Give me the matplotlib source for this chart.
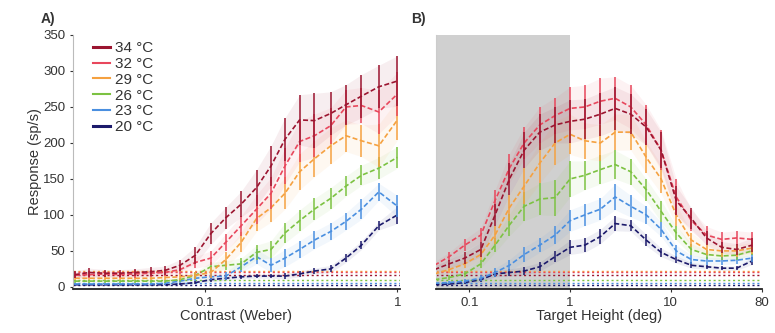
import numpy as np
import matplotlib.pyplot as plt
from matplotlib.lines import Line2D

plt.rcParams['font.family'] = ['Liberation Sans', 'DejaVu Sans']

temps = ['34 °C', '32 °C', '29 °C', '26 °C', '23 °C', '20 °C']
colors = ['#9b1530', '#e8475c', '#f5a140', '#7cc242', '#4a8fe0', '#1c1a6b']
spont = [16, 20, 22, 10, 6, 3]

# panel A: contrast response
contrast = [0.021, 0.025, 0.030, 0.036, 0.043, 0.052, 0.062, 0.074, 0.089, 0.107, 0.128,
            0.154, 0.185, 0.22, 0.26, 0.31, 0.37, 0.45, 0.54, 0.65, 0.80, 1.0]
resp_a = [
    [17, 20, 19, 19, 20, 21, 23, 30, 44, 74, 96, 115, 138, 168, 205, 232, 231, 241, 253, 265, 278, 286],
    [16, 17, 18, 17, 18, 19, 20, 24, 34, 40, 62, 85, 108, 130, 168, 202, 210, 224, 250, 252, 243, 268],
    [12, 12, 12, 12, 12, 12, 13, 14, 16, 20, 38, 62, 95, 110, 130, 160, 178, 196, 210, 203, 196, 232],
    [8, 8, 8, 8, 8, 8, 8, 10, 16, 28, 30, 32, 48, 52, 75, 92, 108, 123, 140, 155, 165, 180],
    [4, 4, 4, 4, 4, 4, 5, 8, 12, 14, 15, 28, 42, 30, 40, 52, 65, 77, 91, 108, 132, 112],
    [3, 3, 3, 3, 3, 3, 3, 4, 6, 10, 12, 14, 15, 15, 15, 18, 22, 25, 40, 58, 85, 100],
]
err_a = [
    [5, 6, 5, 5, 5, 6, 6, 8, 12, 15, 15, 18, 25, 28, 30, 35, 38, 30, 28, 30, 30, 35],
    [4, 5, 4, 4, 5, 5, 5, 6, 8, 10, 12, 14, 20, 22, 25, 28, 30, 25, 24, 25, 30, 30],
    [3, 3, 3, 3, 3, 3, 3, 4, 5, 8, 10, 14, 18, 20, 22, 25, 25, 25, 22, 22, 30, 28],
    [2, 2, 2, 2, 2, 2, 2, 3, 5, 6, 6, 8, 10, 12, 14, 15, 15, 15, 14, 14, 15, 15],
    [2, 2, 2, 2, 2, 2, 2, 3, 4, 5, 6, 8, 10, 10, 12, 12, 12, 12, 12, 14, 12, 15],
    [1, 1, 1, 1, 1, 1, 1, 2, 2, 3, 3, 3, 3, 3, 4, 4, 4, 5, 6, 6, 6, 12],
]

# panel B: size tuning
height = [0.045, 0.063, 0.09, 0.13, 0.18, 0.25, 0.35, 0.5, 0.71, 1.0, 1.4,
          2.0, 2.8, 4.0, 5.7, 8.0, 11.3, 16, 22.6, 32, 45, 64]
resp_b = [
    [24, 32, 40, 52, 100, 150, 190, 215, 225, 230, 233, 240, 248, 240, 222, 190, 120, 95, 68, 55, 52, 58],
    [30, 42, 58, 72, 120, 165, 200, 225, 238, 248, 250, 258, 262, 250, 225, 190, 125, 92, 72, 66, 68, 66],
    [18, 24, 32, 45, 72, 110, 140, 172, 200, 212, 203, 200, 215, 215, 180, 150, 100, 65, 52, 50, 50, 54],
    [10, 13, 18, 32, 58, 86, 112, 122, 124, 150, 155, 163, 170, 160, 135, 105, 75, 52, 45, 43, 44, 50],
    [5, 6, 8, 12, 20, 30, 45, 58, 72, 92, 100, 108, 125, 112, 100, 80, 50, 38, 36, 36, 37, 40],
    [3, 4, 6, 10, 18, 20, 22, 28, 42, 55, 58, 70, 88, 85, 65, 48, 38, 30, 28, 26, 26, 36],
]
err_b = [
    [5, 6, 8, 10, 15, 22, 25, 25, 25, 30, 28, 30, 30, 28, 25, 25, 20, 15, 10, 8, 8, 10],
    [5, 6, 8, 10, 15, 20, 22, 25, 25, 30, 30, 32, 30, 30, 28, 28, 25, 15, 12, 10, 10, 10],
    [4, 5, 6, 8, 12, 18, 25, 28, 30, 28, 25, 25, 25, 25, 22, 20, 15, 10, 8, 8, 8, 8],
    [3, 3, 4, 6, 10, 15, 20, 22, 25, 25, 20, 20, 20, 18, 15, 15, 10, 8, 6, 6, 6, 6],
    [2, 2, 3, 4, 6, 8, 10, 10, 12, 15, 15, 15, 18, 15, 12, 10, 8, 6, 5, 5, 5, 5],
    [1, 1, 2, 3, 4, 5, 6, 6, 8, 10, 10, 10, 10, 8, 8, 6, 5, 4, 3, 3, 3, 5],
]

fig = plt.figure(figsize=(7.75, 3.33), dpi=100)
ax_a = fig.add_axes([0.094, 0.132, 0.422, 0.763])
ax_b = fig.add_axes([0.563, 0.132, 0.420, 0.763])

txt = '#333333'


def draw(ax, x, resp, err):
    for i in range(len(temps))[::-1]:
        y = np.array(resp[i])
        e = np.array(err[i])
        ax.fill_between(x, y - e, y + e, color=colors[i], alpha=0.07, lw=0)
        ax.axhline(spont[i], color=colors[i], ls=(0, (1.5, 2)), lw=1.0, zorder=2)
        ax.errorbar(x, y, yerr=e, color=colors[i], lw=1.2, ls=(0, (3, 1.5)),
                    elinewidth=1.1, capsize=0, zorder=3 + (6 - i))
    ax.set_xscale('log')
    ax.set_ylim(-3, 350)
    ax.minorticks_off()
    for s in ['top', 'right']:
        ax.spines[s].set_visible(False)
    ax.spines['bottom'].set_color('#222222')
    ax.spines['bottom'].set_linewidth(1.3)
    ax.tick_params(colors=txt, labelsize=9.5, length=2)


draw(ax_a, contrast, resp_a, err_a)
ax_a.set_xlim(0.0205, 1.03)
ax_a.set_xticks([0.1, 1])
ax_a.set_xticklabels(['0.1', '1'])
ax_a.set_yticks(range(0, 351, 50))
ax_a.spines['left'].set_color('#bbbbbb')
ax_a.set_xlabel('Contrast (Weber)', fontsize=10.5, color=txt, labelpad=0)
ax_a.set_ylabel('Response (sp/s)', fontsize=10.5, color=txt, labelpad=1)
handles = [Line2D([], [], color=c, lw=2.2 if k in (0, 5) else 1.5) for k, c in enumerate(colors)]
ax_a.legend(handles, temps, loc='upper left', bbox_to_anchor=(0.02, 1.03), frameon=False,
            fontsize=11, handlelength=1.1, handletextpad=0.3, labelspacing=0.12,
            labelcolor=txt)

ax_b.axvspan(0.01, 1.0, color='#d0d0d0', lw=0, zorder=0)
draw(ax_b, height, resp_b, err_b)
ax_b.set_xlim(0.047, 80)
ax_b.set_xticks([0.1, 1, 10, 80])
ax_b.set_xticklabels(['0.1', '1', '10', '80'])
ax_b.set_yticks([])
ax_b.spines['left'].set_color('#cccccc')
ax_b.set_xlabel('Target Height (deg)', fontsize=10.5, color=txt, labelpad=0)

fig.text(0.052, 0.93, 'A)', fontsize=10, fontweight='bold', color=txt)
fig.text(0.531, 0.93, 'B)', fontsize=10, fontweight='bold', color=txt)

fig.savefig('out.png', dpi=100)
